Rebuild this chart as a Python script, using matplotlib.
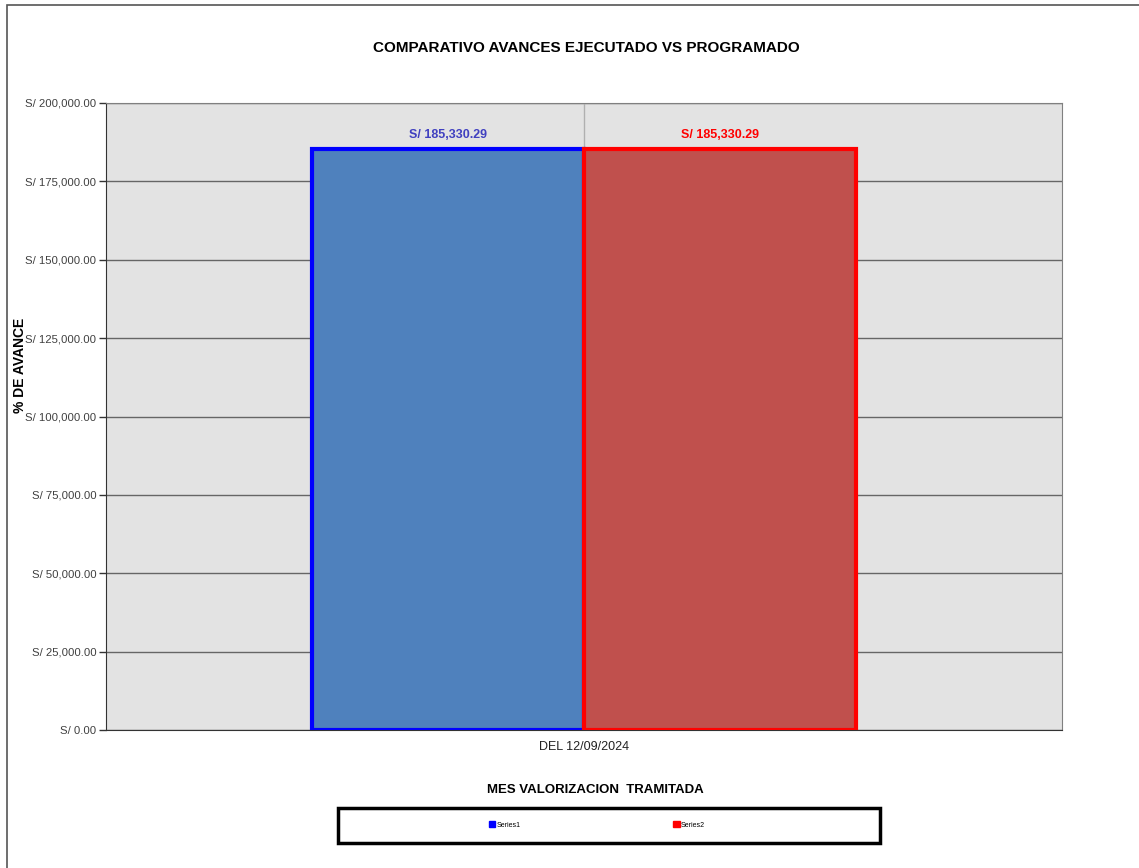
import matplotlib
matplotlib.use("Agg")
import matplotlib.pyplot as plt
from matplotlib.patches import Rectangle, Patch
from matplotlib.ticker import FuncFormatter
import numpy as np

plt.rcParams['font.family'] = ['Liberation Sans', 'DejaVu Sans']

# DATOS
categoria = ["DEL 12/09/2024"]
series = ["Series1", "Series2"]
valores = [185330.29, 185330.29]
relleno = ["#4f81bd", "#c0504d"]
borde = ["#0000ff", "#ff0000"]
color_etiqueta = ["#4040c0", "#ff0000"]
yticks = [0, 25000, 50000, 75000, 100000, 125000, 150000, 175000, 200000]

W, H = 1139, 868
fig = plt.figure(figsize=(W / 100, H / 100), dpi=100)

# marco exterior
fig.patches.append(Rectangle((7 / W, -0.1), 1.2, (H - 5) / H + 0.1, transform=fig.transFigure,
                             fill=False, edgecolor="#555555", linewidth=1.2))

ax = fig.add_axes([106 / W, (H - 730) / H, (1062 - 106) / W, (730 - 103) / H])
ax.set_facecolor("#e3e3e3")

ancho = 0.285
x = np.arange(len(categoria))
for i in range(len(series)):
    pos = x + (i - 0.5) * ancho
    ax.bar(pos, [valores[i]], width=ancho, color=relleno[i], edgecolor=borde[i],
           linewidth=3, zorder=3, label=series[i])
    ax.text(pos[0], valores[i] + 2500, "S/ {:,.2f}".format(valores[i]), ha="center", va="bottom",
            fontsize=9, fontweight="bold", color=color_etiqueta[i], zorder=4)

ax.set_xlim(-0.5, 0.5)
ax.set_ylim(0, 200000)
ax.set_yticks(yticks)
ax.yaxis.set_major_formatter(FuncFormatter(lambda v, p: "S/ {:,.2f}".format(v)))
ax.set_xticks(x)
ax.set_xticklabels(categoria)
ax.tick_params(axis="y", length=5, width=1, colors="#333333", labelsize=8.2, labelcolor="#404040", pad=2)
ax.tick_params(axis="x", length=0, labelsize=9, labelcolor="#222222", pad=8)
ax.grid(axis="y", color="#666666", linewidth=1, zorder=1)
ax.axvline(0, color="#b0b0b0", linewidth=1, zorder=1)
for s in ["top", "right"]:
    ax.spines[s].set_color("#808080")
for s in ["left", "bottom"]:
    ax.spines[s].set_color("#333333")
ax.set_axisbelow(True)

fig.text(586 / W, 1 - 48 / H, "COMPARATIVO AVANCES EJECUTADO VS PROGRAMADO", ha="center", va="center",
         fontsize=11, fontweight="bold")
fig.text(20 / W, 1 - 365 / H, "% DE AVANCE", rotation=90, ha="center", va="center",
         fontsize=10, fontweight="bold")
fig.text(595 / W, 1 - 790 / H, "MES VALORIZACION  TRAMITADA", ha="center", va="center",
         fontsize=9.5, fontweight="bold")

# cuadro de leyenda
fig.patches.append(Rectangle((338 / W, 1 - 843 / H), (880 - 338) / W, 35 / H, transform=fig.transFigure,
                             fill=False, edgecolor="black", linewidth=2.5))
handles = [Patch(facecolor=borde[i], edgecolor=borde[i]) for i in range(len(series))]
fig.legend(handles, series, loc="center", bbox_to_anchor=(597 / W, 1 - 825 / H), ncol=2,
           frameon=False, fontsize=5, handlelength=0.9, handleheight=0.9, handletextpad=0.2,
           columnspacing=22)

fig.savefig("out.png", dpi=100)
